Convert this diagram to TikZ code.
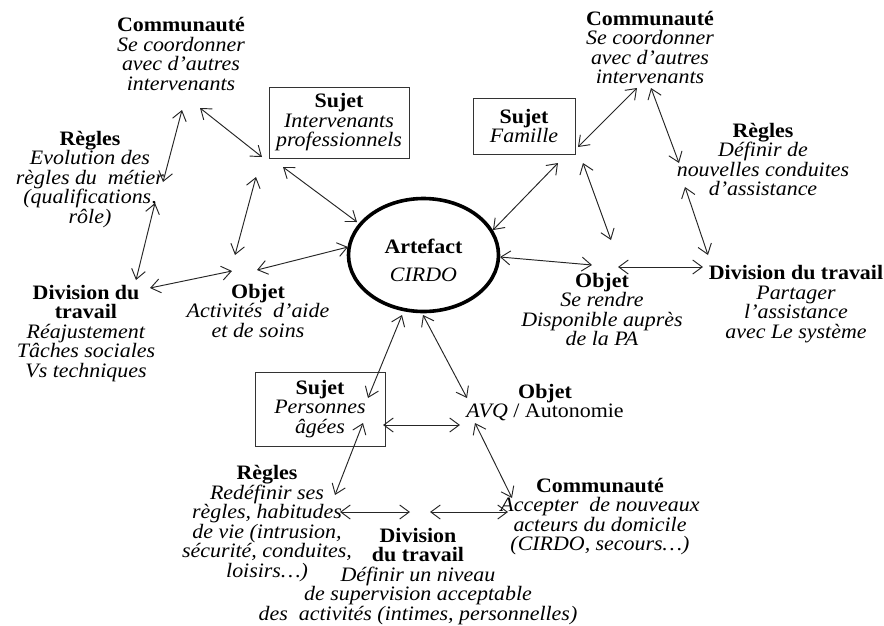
\documentclass[tikz,border=0pt]{standalone}
\usepackage{fontspec}
\setmainfont{Liberation Serif}[FakeStretch=1.07]
\usetikzlibrary{arrows.meta,shapes.geometric}
\begin{document}
\begin{tikzpicture}[x=1pt,y=-1pt,
  lbl/.style={align=center,inner sep=0pt,anchor=base,font=\fontsize{20.5}{19.5}\selectfont},
  sbox/.style={draw=black!80,line width=0.9pt,align=center,inner sep=0pt,font=\fontsize{20.5}{19.5}\selectfont},
  dar/.style={{Straight Barb[length=9.5pt,width=14pt]}-{Straight Barb[length=9.5pt,width=14pt]},line width=0.95pt,draw=black!85}]
\useasboundingbox (0,0) rectangle (884,625);
% central artefact
\node[ellipse,draw,line width=3.6pt,minimum width=150,minimum height=113,inner sep=0pt,align=center,font=\fontsize{20.5}{28}\selectfont] (art) at (423.5,255) {\rule{0pt}{26pt}\textbf{Artefact}\\\textit{CIRDO}};
% left cluster (nodes placed at the baseline of their last line)
\node[lbl] (comL) at (181,90) {\textbf{Communauté}\\\textit{Se coordonner}\\\textit{avec d’autres}\\\textit{intervenants}};
\node[sbox,minimum width=140,minimum height=71] (sujL) at (339,122.5) {\textbf{Sujet}\\\textit{Intervenants}\\\textit{professionnels}};
\node[lbl] (regL) at (90,223) {\textbf{Règles}\\\textit{Evolution des}\\\textit{règles du~ métier}\\\textit{(qualifications,}\\\textit{rôle)}};
\node[lbl] (divL) at (86,377) {\textbf{Division du}\\\textbf{travail}\\\textit{Réajustement}\\\textit{Tâches sociales}\\\textit{Vs techniques}};
\node[lbl] (objL) at (258,337) {\textbf{Objet}\\\textit{Activités~ d’aide}\\\textit{et de soins}};
% right cluster
\node[lbl] (comR) at (650,83.5) {\textbf{Communauté}\\\textit{Se coordonner}\\\textit{avec d’autres}\\\textit{intervenants}};
\node[sbox,minimum width=102,minimum height=56] (sujF) at (524,126) {\textbf{Sujet}\\\textit{Famille}};
\node[lbl] (regR) at (763,195.5) {\textbf{Règles}\\\textit{Définir de}\\\textit{nouvelles conduites}\\\textit{d’assistance}};
\node[lbl] (divR) at (796,338) {\textbf{Division du travail}\\\textit{Partager}\\\textit{l’assistance}\\\textit{avec Le système}};
\node[lbl] (objR) at (602,345.5) {\textbf{Objet}\\\textit{Se rendre}\\\textit{Disponible auprès}\\\textit{de la PA}};
% bottom cluster
\node[sbox,minimum width=130,minimum height=74] (sujP) at (320,409) {\textbf{Sujet}\\\textit{Personnes}\\\textit{âgées}};
\node[lbl] (objB) at (545,417.5) {\textbf{Objet}\\\textit{AVQ} / Autonomie};
\node[lbl] (regB) at (267,577) {\textbf{Règles}\\\textit{Redéfinir ses}\\\textit{règles, habitudes}\\\textit{de vie (intrusion,}\\\textit{sécurité, conduites,}\\\textit{loisirs…)}};
\node[lbl] (divB) at (418,620) {\textbf{Division}\\\textbf{du travail}\\\textit{Définir un niveau}\\\textit{de supervision acceptable}\\\textit{des~ activités (intimes, personnelles)}};
\node[lbl] (comB) at (600,550.5) {\textbf{Communauté}\\\textit{Accepter~ de nouveaux}\\\textit{acteurs du domicile}\\\textit{(CIRDO, secours…)}};
% connectors, left
\draw[dar] ([shift={(1,20)}]comL.base) -- ([shift={(73,-41)}]regL.base);
\draw[dar] ([shift={(19,18)}]comL.base) -- ([shift={(-77,34.5)}]sujL.center);
\draw[dar] ([shift={(65,-20)}]regL.base) -- ([shift={(50,-97)}]divL.base);
\draw[dar] ([shift={(-83,54.5)}]sujL.center) -- ([shift={(-23,-82)}]objL.base);
\draw[dar] ([shift={(-56,44.5)}]sujL.center) -- ([shift={(-66.5,-33)}]art.center);
\draw[dar] ([shift={(64,-89)}]divL.base) -- ([shift={(-26,-66)}]objL.base);
\draw[dar] ([shift={(-1,-67)}]objL.base) -- ([shift={(-75.5,-8)}]art.center);
% connectors, right
\draw[dar] ([shift={(69.5,-25)}]art.center) -- ([shift={(34,37)}]sujF.center);
\draw[dar] ([shift={(54,21)}]sujF.center) -- ([shift={(-13,4.5)}]comR.base);
\draw[dar] ([shift={(1,4.5)}]comR.base) -- ([shift={(-84,-32.5)}]regR.base);
\draw[dar] ([shift={(59,37)}]sujF.center) -- ([shift={(9,-105.5)}]objR.base);
\draw[dar] ([shift={(-78,-8.5)}]regR.base) -- ([shift={(-88,-83)}]divR.base);
\draw[dar] ([shift={(76.5,2)}]art.center) -- ([shift={(-10,-80.5)}]objR.base);
\draw[dar] ([shift={(16,-78.5)}]objR.base) -- ([shift={(-93,-71)}]divR.base);
% connectors, bottom
\draw[dar] ([shift={(-21.5,60)}]art.center) -- ([shift={(48,-11)}]sujP.center);
\draw[dar] ([shift={(-0.5,60)}]art.center) -- ([shift={(-78,-19.5)}]objB.base);
\draw[dar] ([shift={(63,16)}]sujP.center) -- ([shift={(-85,7.5)}]objB.base);
\draw[dar] ([shift={(43,14)}]sujP.center) -- ([shift={(68,-82)}]regB.base);
\draw[dar] ([shift={(-70,5.5)}]objB.base) -- ([shift={(-88,-52.5)}]comB.base);
\draw[dar] ([shift={(73,-65)}]regB.base) -- ([shift={(-8,-108)}]divB.base);
\draw[dar] ([shift={(12,-108)}]divB.base) -- ([shift={(-92,-38.5)}]comB.base);
\end{tikzpicture}
\end{document}
